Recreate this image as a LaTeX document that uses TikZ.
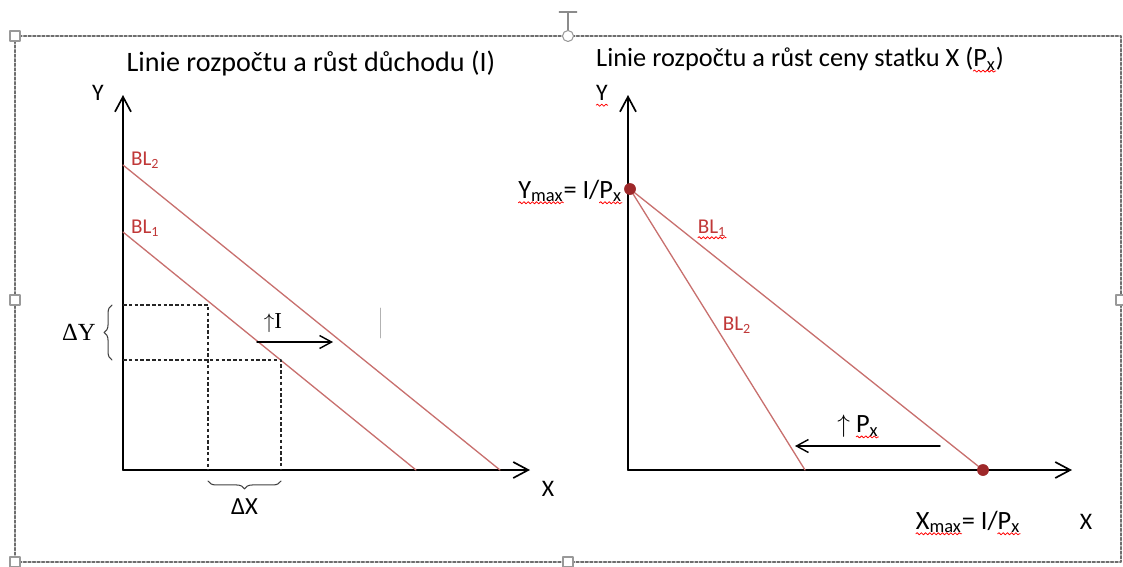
\documentclass[tikz,border=0pt]{standalone}
\usepackage{fontspec}
\setmainfont{Carlito}
\newfontfamily\cambriafont{Liberation Serif}
\usepackage{tikz}
\usetikzlibrary{arrows.meta,decorations.pathreplacing,decorations.pathmorphing,positioning}
\definecolor{blline}{RGB}{200,112,110}
\definecolor{bltext}{RGB}{192,56,56}
\definecolor{bldot}{RGB}{158,40,42}
\definecolor{framegray}{RGB}{110,110,110}
\newlength\spellwd
\newcommand{\spellmark}[2][black]{%
  \setbox0=\hbox{\textcolor{#1}{#2}}\setlength\spellwd{\wd0}%
  \leavevmode\rlap{\box0}%
  \tikz[baseline=0pt,x=1pt,y=1pt]{%
    \draw[overlay,red,line width=0.45pt,line cap=round,decorate,
      decoration={snake,amplitude=0.6pt,segment length=2.4pt}]
      (0pt,-2.6pt) -- (\spellwd,-2.6pt);
    \path (0pt,0pt) (\spellwd,0pt);}}
\tikzset{
  every picture/.append style={line cap=round,line join=round},
  econ axis/.style={line width=0.95pt,-{Straight Barb[length=3mm,width=3.2mm]}},
  econ budget/.style={blline,line width=0.75pt},
  econ guide/.style={line width=0.6pt,black!85,dash pattern=on 2pt off 1.3pt,line cap=butt},
  econ shift/.style={line width=0.8pt,-{Straight Barb[length=2.4mm,width=2.6mm]}},
  econ dot/.style={circle,fill=bldot,inner sep=0pt,minimum size=2.3mm},
  econ brace/.style={decorate,decoration={brace,amplitude=4.5pt},line width=0.6pt,black!75},
  econ handle/.style={draw=framegray!70,fill=white,line width=0.6pt,inner sep=0pt,minimum size=2mm}
}

\begin{document}
\begin{tikzpicture}[
  x=0.02cm,y=-0.02cm,
  every node/.style={inner sep=1pt},
  title/.style={font=\fontsize{16}{19}\selectfont},
  axlabel/.style={font=\fontsize{13.5}{16}\selectfont},
  bl/.style={text=bltext,font=\fontsize{12}{14}\selectfont},
  formula/.style={font=\fontsize{15}{17}\selectfont}
]
\useasboundingbox (0,0) rectangle (1123,566);

% selection frame
\draw[framegray,line width=0.8pt,dash pattern=on 1.6pt off 1pt] (15,36) rectangle (1121,562);
\coordinate (rot top) at (568,12);
\node[econ handle,circle,minimum size=2.2mm] (h top) at (568,36) {};
\draw[framegray!80,line width=0.6pt] (h top.north) -- (rot top);
\draw[framegray!80,line width=0.6pt] ([xshift=-5]rot top) -- ([xshift=5]rot top);
\node[econ handle] (h tl) at (15,36) {};
\node[econ handle] (h ml) at (15,300) {};
\node[econ handle] (h bl) at (15,562) {};
\node[econ handle] (h bm) at (568,562) {};
\node[econ handle] (h mr) at (1121,300) {};

% left: income growth
\node[title] (title l) at (311,63) {Linie rozpočtu a růst důchodu (I)};
\coordinate (lo) at (123,470);
\coordinate (ly) at (123,95);
\coordinate (lx) at (530,470);
\draw[econ axis] (lo) -- (ly);
\draw[econ axis] (lo) -- (lx);
\node[axlabel] (ly lab) at (98,93) {Y};
\node[axlabel] (lx lab) at (548,489) {X};

\coordinate (bl2 a) at (123,165);
\coordinate (bl2 b) at (500,470);
\coordinate (bl1 a) at (123,232);
\coordinate (bl1 b) at (416,470);
\draw[econ budget] (bl2 a) -- (bl2 b);
\draw[econ budget] (bl1 a) -- (bl1 b);
\node[bl,anchor=west] (bl2 lab) at (129,160) {BL\textsubscript{2}};
\node[bl,anchor=west] (bl1 lab) at (129,228) {BL\textsubscript{1}};

\coordinate (p1) at (208,305);
\coordinate (p2) at (281,360);
\draw[econ guide] (123,305) -- (p1) -- (208,470);
\draw[econ guide] (123,360) -- (p2) -- (281,470);

\draw[econ brace] (112,360) -- (112,305) node[midway,left=8pt,font=\cambriafont\fontsize{14}{16}\selectfont,text=black] (dy lab) {ΔY};
\draw[econ brace] (281,481) -- (208,481) node[midway,below=9pt,font=\fontsize{14}{16}\selectfont,text=black] (dx lab) {ΔX};

\coordinate (shift a) at (257,342);
\coordinate (shift b) at (333,342);
\draw[econ shift] (shift a) -- (shift b);
\node[font=\cambriafont\fontsize{13}{15}\selectfont] (inc lab) at (273,323) {$\uparrow$I};
\draw[gray!60,line width=0.4pt] (380,308) -- (380,338);

% right: price growth
\node[title,font=\fontsize{15}{18}\selectfont] (title r) at (800,59) {Linie rozpočtu a růst ceny statku X (\spellmark{P\textsubscript{x}})};
\coordinate (ro) at (628,470);
\coordinate (ry) at (628,95);
\coordinate (rx) at (1072,470);
\draw[econ axis] (ro) -- (ry);
\draw[econ axis] (ro) -- (rx);
\node[axlabel] (ry lab) at (602,93) {\spellmark{Y}};
\node[axlabel] (rx lab) at (1086,522) {X};

\node[econ dot] (ymax) at (630,189) {};
\node[econ dot] (xmax) at (983,470) {};
\coordinate (bl2 end) at (805,470);
\draw[econ budget] (ymax.center) -- (xmax.center);
\draw[econ budget] (ymax.center) -- (bl2 end);
\node[econ dot] at (ymax) {};
\node[econ dot] at (xmax) {};

\node[formula,anchor=east] (ymax lab) at (624,191) {\spellmark{Y\textsubscript{max}}= I/\spellmark{P\textsubscript{x}}};
\node[formula] (xmax lab) at (968,522) {\spellmark{X\textsubscript{max}}= I/\spellmark{P\textsubscript{x}}};
\node[bl] (bl1 r lab) at (712,228) {\spellmark[bltext]{BL\textsubscript{1}}};
\node[bl] (bl2 r lab) at (737,325) {BL\textsubscript{2}};

\coordinate (price a) at (940,446);
\coordinate (price b) at (795,446);
\draw[econ shift] (price a) -- (price b);
\node[formula] (price lab) at (858,426) {$\uparrow$ \spellmark{P\textsubscript{x}}};
\end{tikzpicture}
\end{document}
